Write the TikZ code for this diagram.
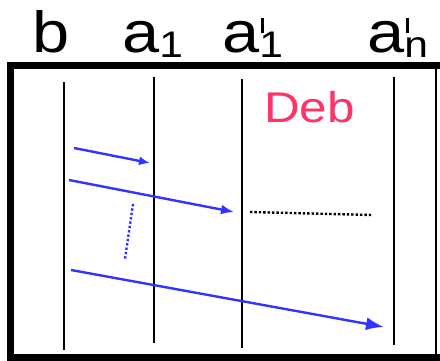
\documentclass[tikz,border=0pt]{standalone}
\usepackage{fontspec}
\setmainfont{Liberation Sans}[FakeStretch=1.15]
\usepackage{tikz}
\usetikzlibrary{arrows.meta, positioning}
\definecolor{msgblue}{HTML}{3333FF}
\definecolor{debred} {HTML}{FF3366}

\newcommand\subl[1]{\raisebox{-5pt}{\fontsize{37}{37}\selectfont #1}}
\newcommand\primel{\makebox[0pt][l]{\hspace{2pt}\raisebox{20pt}{\rule{3pt}{15pt}}}}

\begin{document}
\begin{tikzpicture}[
    x=1pt, y=-1pt,
    lbl/.style={anchor=base west, inner sep=0pt, font=\fontsize{58}{58}\selectfont},
    life/.style={line width=2.5pt},
    msg/.style={-{Latex[length=13pt, width=10pt]}, line width=2.4pt, color=msgblue},
    frame/.style={line width=7pt},
  ]
    \useasboundingbox (0,0) rectangle (440,361);

    % process names
    \node[lbl] (b)   at (32,53)  {b};
    \node[lbl] (a1)  at (122,53) {a\subl{1}};
    \node[lbl] (a1p) at (222,53) {a\primel\subl{1}};
    \node[lbl] (anp) at (367,53) {a\primel\subl{n}};

    \node[anchor=base west, inner sep=0pt, text=debred,
          font=\fontsize{43}{43}\selectfont] (deb) at (264,123) {Deb};

    % box
    \draw[frame] (440,65.5) -- (10,65.5) -- (10,357.5) -- (440,357.5);
    \draw[line width=2pt] (436,65) -- (436,357);

    % lifelines
    \coordinate (bt)  at (64,82);   \coordinate (bb)  at (64,350);
    \coordinate (a1t) at (154,77);  \coordinate (a1b) at (154,343);
    \coordinate (a2t) at (242,79);  \coordinate (a2b) at (242,348);
    \coordinate (ant) at (394,77);  \coordinate (anb) at (394,345);
    \draw[life] (bt)  -- (bb);
    \draw[life] (a1t) -- (a1b);
    \draw[life] (a2t) -- (a2b);
    \draw[life] (ant) -- (anb);

    % messages
    \coordinate (m1s) at (74,148);  \coordinate (m1e) at (150,163);
    \coordinate (m2s) at (69,180);  \coordinate (m2e) at (234,212);
    \coordinate (m3s) at (71,270);  \coordinate (m3e) at (384,327);
    \draw[msg, -{Latex[length=11pt, width=9pt]}] (m1s) -- (m1e);
    \draw[msg] (m2s) -- (m2e);
    \draw[msg, -{Latex[length=18pt, width=13pt]}] (m3s) -- (m3e);

    \coordinate (d1s) at (133,204); \coordinate (d1e) at (125,259);
    \coordinate (d2s) at (250,212); \coordinate (d2e) at (372,215);
    \draw[msgblue, line width=2.4pt, dotted] (d1s) -- (d1e);
    \draw[line width=2.4pt, dotted] (d2s) -- (d2e);
  \end{tikzpicture}
\end{document}
